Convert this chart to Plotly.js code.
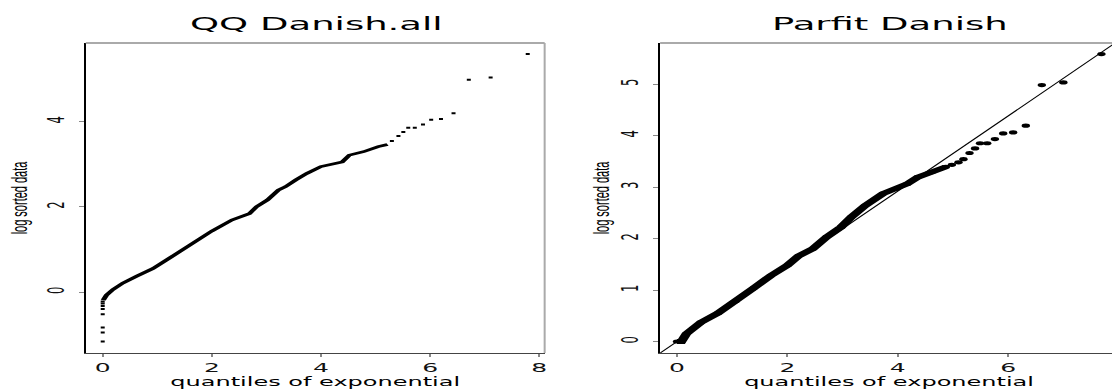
<!DOCTYPE html>
<html>
<head>
<meta charset="utf-8">
<script src="https://cdn.plot.ly/plotly-3.0.1.min.js"></script>
<style>
html, body { margin: 0; padding: 0; overflow: hidden; background: #fff; width: 1112px; height: 390px; }
#chart { width: 560px; height: 390px; transform: scaleX(2); transform-origin: 0 0; }
</style>
</head>
<body>
<div id="chart"></div>
<script>
// ---- Panel 1: QQ Danish.all (log sorted data vs exponential quantiles) ----
const allLowX   = [0, 0, 0, 0, 0, 0, 0, 0];
const allLowY   = [-1.16, -0.95, -0.83, -0.52, -0.40, -0.33, -0.27, -0.22];
const allBodyX  = [0.01, 0.07, 0.19, 0.37, 0.62, 0.92, 1.23, 1.52, 1.80, 2.00, 2.37, 2.69, 2.82, 3.02, 3.22, 3.35, 3.54, 3.74, 4.00, 4.39, 4.52, 4.78, 5.05, 5.22];
const allBodyY  = [-0.19, -0.07, 0.06, 0.21, 0.37, 0.55, 0.80, 1.03, 1.25, 1.43, 1.69, 1.84, 2.00, 2.16, 2.39, 2.47, 2.63, 2.78, 2.94, 3.05, 3.21, 3.29, 3.41, 3.46];
const allTailX  = [5.30, 5.42, 5.51, 5.60, 5.72, 5.87, 6.02, 6.20, 6.43, 6.71, 7.11, 7.79];
const allTailY  = [3.54, 3.66, 3.75, 3.85, 3.85, 3.93, 4.04, 4.06, 4.19, 4.98, 5.03, 5.58];

// ---- Panel 2: Parfit Danish ----
const fitBodyX  = [0.00, 0.08, 0.17, 0.43, 0.74, 1.06, 1.38, 1.70, 2.00, 2.20, 2.46, 2.71, 2.97, 3.16, 3.41, 3.73, 3.98, 4.17, 4.36, 4.62, 4.87];
const fitBodyY  = [0.00, 0.00, 0.15, 0.37, 0.55, 0.78, 1.03, 1.28, 1.48, 1.66, 1.80, 2.03, 2.22, 2.42, 2.64, 2.87, 2.97, 3.06, 3.19, 3.29, 3.39];
const fitTailX  = [4.98, 5.10, 5.19, 5.30, 5.40, 5.49, 5.62, 5.76, 5.91, 6.09, 6.32, 6.61, 7.00, 7.69];
const fitTailY  = [3.43, 3.48, 3.54, 3.66, 3.75, 3.85, 3.85, 3.93, 4.04, 4.06, 4.19, 4.98, 5.03, 5.58];
const fitSlope = 0.73;
const fitIntercept = 0;

// tick labels
const xTicksLeft  = [0, 2, 4, 6, 8];
const yTicksLeft  = [0, 2, 4];
const xTicksRight = [0, 2, 4, 6];
const yTicksRight = [0, 1, 2, 3, 4, 5];

const titles = ["QQ Danish.all", "Parfit Danish"];
const xLabel = "quantiles of exponential";
const yLabel = "log sorted data";

const xRangeL = [-0.31, 8.1], yRangeL = [-1.43, 5.84];
const xRangeR = [-0.306, 7.99], yRangeR = [-0.223, 5.796];

const fitLineX = [xRangeR[0] - 1, xRangeR[1] + 1];
const fitLineY = fitLineX.map(v => fitIntercept + fitSlope * v);

const traces = [
  { x: allBodyX, y: allBodyY, xaxis: 'x', yaxis: 'y', mode: 'lines', line: { color: '#000', width: 2.6 }, hoverinfo: 'skip' },
  { x: allLowX.concat(allTailX), y: allLowY.concat(allTailY), xaxis: 'x', yaxis: 'y', mode: 'markers',
    marker: { symbol: 'square', size: 2, color: '#000', line: { width: 0 } } },
  { x: fitBodyX, y: fitBodyY, xaxis: 'x2', yaxis: 'y2', mode: 'lines+markers', line: { color: '#000', width: 4.8 },
    marker: { size: 4.2, color: '#000' } },
  { x: fitTailX, y: fitTailY, xaxis: 'x2', yaxis: 'y2', mode: 'markers', marker: { size: 4.2, color: '#000', line: { width: 0 } } },
  { x: fitLineX, y: fitLineY, xaxis: 'x2', yaxis: 'y2', mode: 'lines', line: { color: '#000', width: 0.8 } }
];

const tickFont = { family: 'DejaVu Sans', size: 12.5, color: '#111' };
const yTickFont = { family: 'DejaVu Sans', size: 11.5, color: '#111' };
const xTitleFont = { family: 'DejaVu Sans', size: 12, color: '#000' };
const yTitleFont = { family: 'Liberation Sans', size: 11, color: '#000' };

function xAxis(dom, range, ticks, anchor) {
  return {
    domain: dom, range: range, anchor: anchor, tickvals: ticks, ticktext: ticks.map(String),
    showgrid: false, zeroline: false, showline: true, linecolor: '#444', linewidth: 1,
    ticks: 'outside', ticklen: 2.5, tickcolor: '#888', tickwidth: 1, tickfont: tickFont,
    ticklabelstandoff: 1, automargin: false,
    title: { text: xLabel, font: xTitleFont, standoff: 2 }
  };
}
function yAxis(range, ticks, anchor, standoff) {
  return {
    domain: [0, 1], range: range, anchor: anchor, tickvals: ticks, ticktext: ticks.map(String),
    showgrid: false, zeroline: false, showline: true, linecolor: '#000', linewidth: 1,
    ticks: 'outside', ticklen: 2.5, tickcolor: '#888', tickwidth: 1, tickfont: yTickFont, tickangle: -90,
    ticklabelstandoff: 3, automargin: false,
    title: { text: yLabel, font: yTitleFont, standoff: standoff }
  };
}

const border = (xr, yr, x0, y0, x1, y1, w) => ({
  type: 'line', xref: xr, yref: yr, x0: x0, y0: y0, x1: x1, y1: y1,
  line: { color: '#aaa', width: w }, layer: 'above'
});

const layout = {
  width: 560, height: 390,
  margin: { l: 0, r: 0, t: 43, b: 37, pad: 0 },
  paper_bgcolor: '#fff', plot_bgcolor: '#fff',
  showlegend: false,
  xaxis: xAxis([0.0766, 0.4863], xRangeL, xTicksLeft, 'y'),
  yaxis: yAxis(yRangeL, yTicksLeft, 'x', 4),
  xaxis2: xAxis([0.5894, 0.9982], xRangeR, xTicksRight, 'y2'),
  yaxis2: yAxis(yRangeR, yTicksRight, 'x2', 0),
  annotations: [
    { text: titles[0], xref: 'x domain', yref: 'paper', x: 0.5, y: 1.063, xanchor: 'center', yanchor: 'middle',
      showarrow: false, font: { family: 'DejaVu Sans', size: 18.5, color: '#000' } },
    { text: titles[1], xref: 'x2 domain', yref: 'paper', x: 0.5, y: 1.063, xanchor: 'center', yanchor: 'middle',
      showarrow: false, font: { family: 'DejaVu Sans', size: 18.5, color: '#000' } }
  ],
  shapes: [
    border('x domain', 'y domain', 0, 1, 1, 1, 2),
    border('x domain', 'y domain', 1, 0, 1, 1, 1),
    border('x2 domain', 'y2 domain', 0, 1, 1, 1, 2)
  ]
};

Plotly.newPlot('chart', traces, layout, { staticPlot: true, displayModeBar: false });
</script>
</body>
</html>
